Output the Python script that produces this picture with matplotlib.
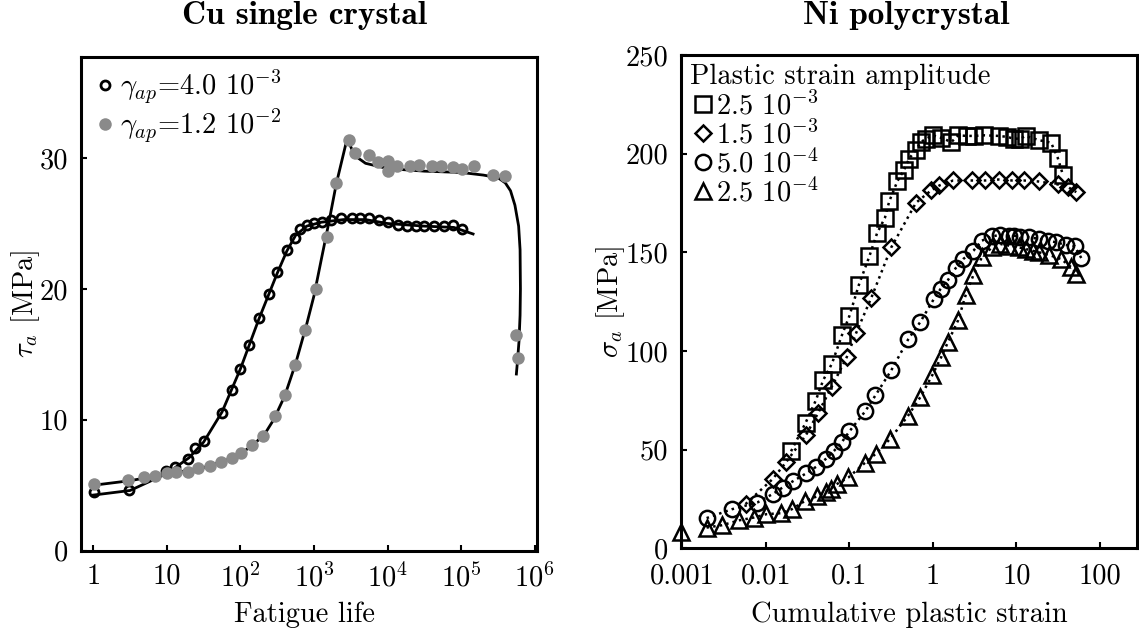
import numpy as np
import matplotlib
matplotlib.use('Agg')
import matplotlib.pyplot as plt
from matplotlib.lines import Line2D

# ---------------- data: Cu single crystal (left) ----------------
cu_lo_N = [1.03, 3.1, 9.8, 12.9, 19.1, 24.0, 32.4, 55.6, 75.9, 98.9, 129, 178, 243, 316,
           427, 550, 646, 794, 1000, 1290, 1700, 2340, 3240, 4270, 5620, 7590, 10200,
           13800, 18200, 24000, 31600, 42700, 57500, 77600, 102000]
cu_lo_tau = [4.49, 4.6, 6.08, 6.4, 7.0, 7.87, 8.38, 10.5, 12.3, 13.9, 15.7, 17.8, 19.6, 21.3,
             23.0, 23.9, 24.6, 24.9, 25.05, 25.1, 25.3, 25.4, 25.4, 25.4, 25.4, 25.25, 25.1,
             24.9, 24.8, 24.8, 24.8, 24.8, 24.8, 24.9, 24.6]
cu_lo_fit_N = [1.0, 3.16, 10, 20, 31.6, 56.2, 100, 178, 316, 427, 562, 794, 1260, 2510,
               5010, 10000, 31600, 79400, 145000]
cu_lo_fit_tau = [4.25, 4.6, 5.9, 7.1, 8.3, 10.6, 13.9, 17.7, 21.2, 22.9, 24.1, 24.8, 25.1,
                 25.3, 25.3, 25.0, 24.8, 24.7, 24.2]

cu_hi_N = [1.03, 2.95, 4.9, 6.9, 10, 13.5, 19.1, 26.9, 38, 55, 75.9, 102, 145, 200, 295,
           407, 550, 759, 1070, 1480, 2000, 2990, 3630, 5500, 7410, 10200, 10000, 13500,
           20000, 26900, 39800, 52500, 77600, 102000, 148000, 269000, 389000, 562000, 589000]
cu_hi_tau = [5.08, 5.4, 5.6, 5.7, 5.9, 6.0, 6.05, 6.3, 6.5, 6.8, 7.1, 7.5, 8.05, 8.8, 10.3,
             11.9, 14.2, 16.9, 20.0, 24.0, 28.1, 31.4, 30.4, 30.2, 29.7, 29.8, 29.0, 29.4,
             29.4, 29.5, 29.4, 29.4, 29.3, 29.2, 29.4, 28.7, 28.6, 16.5, 14.7]
cu_hi_fit_N = [1.0, 3.16, 10, 31.6, 63.1, 100, 158, 224, 282, 398, 562, 794, 1000, 1260,
               1580, 2000, 2820, 3550, 5010, 10000, 31600, 100000, 200000, 316000, 398000,
               468000, 537000, 603000, 631000, 638000, 631000, 610000, 582000, 562000]
cu_hi_fit_tau = [5.0, 5.35, 5.85, 6.35, 6.9, 7.4, 8.2, 9.1, 10.0, 11.8, 14.3, 17.3, 19.5,
                 22.3, 25.0, 28.0, 31.5, 30.2, 29.6, 29.2, 29.0, 28.9, 28.7, 28.5, 28.1,
                 27.5, 26.4, 24.8, 23.0, 20.0, 18.0, 16.0, 14.5, 13.5]

# ---------------- data: Ni polycrystal (right) ----------------
sq_x = [0.0201, 0.030, 0.0397, 0.0486, 0.062, 0.0818, 0.1, 0.130, 0.174, 0.215, 0.267, 0.301,
        0.377, 0.454, 0.521, 0.628, 0.722, 0.830, 1.0, 1.26, 1.67, 2.01, 2.54, 3.14, 4.11,
        6.14, 7.74, 9.33, 11.2, 12.9, 18.8, 26.0, 31.3, 36.0]
sq_y = [49.2, 63.6, 74.9, 85.1, 93.6, 108.1, 117.6, 133.4, 148.0, 159.7, 167.5, 175.9, 186.1,
        191.9, 197.5, 202.0, 205.9, 207.6, 209.3, 208.0, 205.9, 209.3, 209.0, 209.0, 209.3,
        209.0, 208.5, 207.6, 207.6, 209.0, 206.8, 205.6, 197.8, 189.3]

di_x = [0.00573, 0.0121, 0.0175, 0.0305, 0.0423, 0.0613, 0.0933, 0.121, 0.184, 0.318, 0.628,
        0.955, 1.20, 1.75, 2.91, 4.23, 6.14, 8.89, 12.3, 18.4, 31.3, 41.3, 52.1]
di_y = [22.4, 35.1, 43.6, 57.6, 68.5, 81.7, 96.9, 109.2, 127.1, 152.5, 175.1, 181.4, 183.9,
        186.4, 186.4, 186.4, 186.9, 186.4, 186.4, 185.9, 184.4, 183.1, 180.5]

ci_x = [0.00196, 0.00394, 0.00792, 0.0121, 0.0159, 0.0210, 0.0305, 0.0404, 0.0524, 0.0661,
        0.0811, 0.1005, 0.1556, 0.2056, 0.318, 0.507, 0.708, 1.03, 1.24, 1.52, 1.87, 2.31,
        3.06, 3.86, 5.09, 6.43, 8.11, 9.33, 11.2, 14.2, 18.8, 23.7, 29.9, 39.4, 49.8, 60.0]
ci_y = [15.3, 19.8, 23.2, 27.5, 30.8, 33.9, 38.0, 41.4, 45.3, 49.5, 53.7, 59.3, 69.5, 77.5,
        90.2, 105.9, 114.7, 126.4, 131.5, 136.0, 141.9, 146.6, 150.8, 155.9, 158.1, 158.8,
        158.1, 158.5, 157.6, 157.6, 156.8, 155.9, 155.1, 153.7, 153.1, 147.0]

tr_x = [0.00196, 0.00299, 0.00484, 0.00722, 0.0102, 0.0152, 0.0205, 0.0297, 0.0411, 0.0524,
        0.0602, 0.0705, 0.0977, 0.153, 0.206, 0.307, 0.498, 0.708, 0.981, 1.26, 1.52, 2.01,
        2.47, 3.06, 3.86, 5.09, 6.43, 8.11, 10.7, 12.9, 15.6, 18.8, 24.8, 34.3, 45.4, 52.1]
tr_y = [10.5, 11.7, 14.2, 15.6, 17.3, 17.8, 19.8, 24.1, 26.3, 28.6, 30.3, 32.5, 35.9, 43.2,
        47.8, 55.4, 66.8, 76.6, 87.6, 96.9, 104.6, 115.6, 128.3, 138.5, 147.5, 152.5, 154.2,
        153.4, 152.5, 151.7, 150.8, 150.0, 148.6, 146.6, 142.4, 139.0]
tr_edge_x = [0.00098]
tr_edge_y = [8.5]

left_xticks = [1, 10, 1e2, 1e3, 1e4, 1e5, 1e6]
left_xticklabels = ['1', '10', r'$10^2$', r'$10^3$', r'$10^4$', r'$10^5$', r'$10^6$']
left_yticks = [0, 10, 20, 30]
right_xticks = [0.001, 0.01, 0.1, 1, 10, 100]
right_xticklabels = ['0.001', '0.01', '0.1', '1', '10', '100']
right_yticks = [0, 50, 100, 150, 200, 250]

cu_labels = [r'$\gamma_{ap}$=4.0 $10^{-3}$', r'$\gamma_{ap}$=1.2 $10^{-2}$']
ni_title = 'Plastic strain amplitude'
ni_labels = [r'2.5 $10^{-3}$', r'1.5 $10^{-3}$', r'5.0 $10^{-4}$', r'2.5 $10^{-4}$']

# ---------------- style ----------------
FS = 20.5
plt.rcParams.update({
    'font.family': 'cmr10',
    'mathtext.fontset': 'cm',
    'mathtext.rm': 'cmr10',
    'axes.unicode_minus': False,
    'font.size': FS,
})

W, H = 1139, 636
L1, R1, T1, B1 = 81, 537, 57.3, 550.7
L2, R2, T2, B2 = 680.7, 1137.3, 55, 548.3
fig = plt.figure(figsize=(W / 100, H / 100), dpi=100)
ax1 = fig.add_axes([L1 / W, 1 - B1 / H, (R1 - L1) / W, (B1 - T1) / H])
ax2 = fig.add_axes([L2 / W, 1 - B2 / H, (R2 - L2) / W, (B2 - T2) / H])

GRAY = '#8a8a8a'

# left panel
ax1.plot(cu_lo_fit_N, cu_lo_fit_tau, '-', color='k', lw=2, zorder=2)
ax1.plot(cu_hi_fit_N, cu_hi_fit_tau, '-', color='k', lw=2, zorder=2)
ax1.plot(cu_lo_N, cu_lo_tau, 'o', ls='none', mfc='none', mec='k', mew=2.0, ms=6.5, zorder=3)
ax1.plot(cu_hi_N, cu_hi_tau, 'o', ls='none', color=GRAY, mec='none', ms=9, zorder=4)
ax1.set_xscale('log')
ax1.set_xlim(10 ** -0.167, 10 ** 6.03)
ax1.set_ylim(0, 37.7)
ax1.set_xticks(left_xticks)
ax1.set_xticklabels(left_xticklabels)
ax1.xaxis.set_minor_locator(matplotlib.ticker.NullLocator())
ax1.set_yticks(left_yticks)
ax1.set_xlabel('Fatigue life')
ax1.set_ylabel(r'$\tau_a$ [MPa]')
ax1.xaxis.set_label_coords((305 - L1) / (R1 - L1), -(615 - B1) / (B1 - T1))
ax1.xaxis.label.set_va('center')
ax1.yaxis.set_label_coords(-(L1 - 26) / (R1 - L1), 0.5)
ax1.yaxis.label.set_va('center')
h1 = [Line2D([], [], marker='o', ls='none', mfc='none', mec='k', mew=2.0, ms=6.5),
      Line2D([], [], marker='o', ls='none', color=GRAY, mec='none', ms=9)]
ax1.legend(h1, cu_labels, loc='upper left', frameon=False, handlelength=0.5,
           handletextpad=0.28, labelspacing=0.07, borderaxespad=0, borderpad=0,
           bbox_to_anchor=((98 - L1) / (R1 - L1), 1 - (68 - T1) / (B1 - T1)))

# right panel
mk = dict(mfc='none', mec='k', mew=1.8, color='k', ls=':', lw=1.8)
ax2.plot(sq_x, sq_y, marker='s', ms=11, **mk)
ax2.plot(di_x, di_y, marker='D', ms=8, **mk)
ax2.plot(ci_x, ci_y, marker='o', ms=11, **mk)
ax2.plot(tr_x, tr_y, marker='^', ms=12, **mk)
ax2.plot(tr_edge_x, tr_edge_y, marker='^', ms=12, ls='none', mfc='none', mec='k', mew=1.8,
         clip_on=False)
ax2.set_xscale('log')
ax2.set_xlim(0.00096, 280)
ax2.set_ylim(0, 250)
ax2.set_xticks(right_xticks)
ax2.set_xticklabels(right_xticklabels)
ax2.xaxis.set_minor_locator(matplotlib.ticker.NullLocator())
ax2.set_yticks(right_yticks)
ax2.set_xlabel('Cumulative plastic strain')
ax2.set_ylabel(r'$\sigma_a$ [MPa]')
ax2.xaxis.set_label_coords((909 - L2) / (R2 - L2), -(615 - B2) / (B2 - T2))
ax2.xaxis.label.set_va('center')
ax2.yaxis.set_label_coords(-(L2 - 611) / (R2 - L2), 0.5)
ax2.yaxis.label.set_va('center')
ax2.text((690 - L2) / (R2 - L2), 1 - (77 - T2) / (B2 - T2), ni_title, transform=ax2.transAxes,
         ha='left', va='center')
h2 = [Line2D([], [], marker=m, ls='none', mfc='none', mec='k', mew=1.8, ms=s)
      for m, s in [('s', 11), ('D', 8), ('o', 11), ('^', 12)]]
ax2.legend(h2, ni_labels, loc='upper left', frameon=False, handlelength=0.6,
           handletextpad=0.15, labelspacing=0.0, borderaxespad=0, borderpad=0,
           bbox_to_anchor=((694.5 - L2) / (R2 - L2), 1 - (91.5 - T2) / (B2 - T2)))

for ax in (ax1, ax2):
    for sp in ax.spines.values():
        sp.set_linewidth(2.2)
    ax.tick_params(axis='both', which='both', direction='in', length=4, width=1.5,
                   top=False, right=False, pad=9, labelsize=FS)
ax2.tick_params(axis='x', pad=11)

fig.text(305 / W, 1 - 16 / H, 'Cu single crystal', family='cmb10', ha='center', va='center',
         fontsize=24)
fig.text(906 / W, 1 - 16 / H, 'Ni polycrystal', family='cmb10', ha='center', va='center',
         fontsize=24)

fig.savefig('out.png', dpi=100)
